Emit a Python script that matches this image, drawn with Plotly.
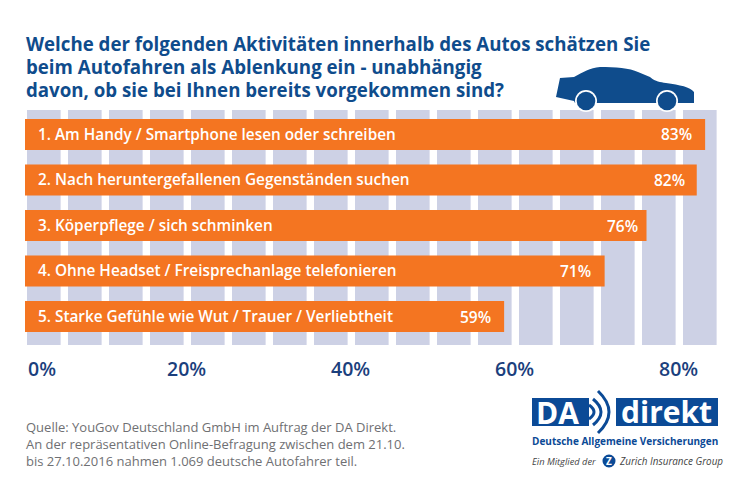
import plotly.graph_objects as go

# ______________________________________________________________________________
# DATA
# ______________________________________________________________________________

activities = ['1. Am Handy / Smartphone lesen oder schreiben',
              '2. Nach heruntergefallenen Gegenständen suchen',
              '3. Köperpflege / sich schminken',
              '4. Ohne Headset / Freisprechanlage telefonieren',
              '5. Starke Gefühle wie Wut / Trauer / Verliebtheit']
shares = [83, 82, 76, 71, 59]
column_starts = [0, 5, 10, 15, 20, 25, 30, 35, 40, 45, 50, 55, 60, 65, 70, 75, 80]
column_heights = [1, 1, 1, 1, 1, 1, 1, 1, 1, 1, 1, 1, 1, 1, 1, 1, 1]
tick_values = [0, 20, 40, 60, 80]
tick_labels = ['0%', '20%', '40%', '60%', '80%']

title_lines = ['Welche der folgenden Aktivitäten innerhalb des Autos schätzen Sie',
               'beim Autofahren als Ablenkung ein - unabhängig',
               'davon, ob sie bei Ihnen bereits vorgekommen sind?']
source_lines = ['Quelle: YouGov Deutschland GmbH im Auftrag der DA Direkt.',
                'An der repräsentativen Online-Befragung zwischen dem 21.10.',
                'bis 27.10.2016 nahmen 1.069 deutsche Autofahrer teil.']

# ______________________________________________________________________________
# PARAMETERS
# ______________________________________________________________________________

W, H = 746, 498
FONT = 'Open Sans'
NAVY = '#0f4c8c'
TICK_NAVY = '#1b3f7d'
ORANGE = '#f47521'
COLUMN = '#cdd1e5'
GREY = '#6f7073'
LOGO = '#0b4a96'

# distance of the value labels to the bar end, px
value_shifts = [-11, -10, -7, -12, -11]


def px(x):
    return x / W


def py(y):
    return 1 - y / H


def path(points):
    # pixel coordinates of the picture -> paper coordinates
    out = []
    for cmd, *xy in points:
        coords = ' '.join(f'{px(xy[i]):.5f},{py(xy[i + 1]):.5f}' for i in range(0, len(xy), 2))
        out.append(f'{cmd} {coords}')
    return ' '.join(out) + ' Z'


fig = go.Figure()

# background columns
fig.add_trace(go.Bar(x=column_starts, y=column_heights, width=4.1, offset=0,
                     marker=dict(color=COLUMN, line_width=0),
                     hoverinfo='skip', xaxis='x', yaxis='y'))

# orange bars
fig.add_trace(go.Bar(x=shares, y=activities, orientation='h', width=0.68,
                     marker=dict(color=ORANGE, line_width=0),
                     xaxis='x2', yaxis='y2'))

annotations = []

for line, y in zip(title_lines, [44, 66.5, 89]):
    annotations.append(dict(text=line, xref='paper', yref='paper', x=px(23.5), y=py(y),
                            xanchor='left', yanchor='middle', showarrow=False,
                            font=dict(family=FONT, size=18.7, color=NAVY, weight=700)))

annotations.append(dict(text='<br>'.join(source_lines), xref='paper', yref='paper', x=px(24), y=py(443.5),
                        xanchor='left', yanchor='middle', align='left', showarrow=False,
                        font=dict(family=FONT, size=13, color=GREY)))

# bar values, inside the bar end
for share, activity, shift in zip(shares, activities, value_shifts):
    annotations.append(dict(text=f'{share}%', xref='x2', yref='y2', x=share, y=activity,
                            xanchor='right', yanchor='middle', xshift=shift, showarrow=False,
                            font=dict(family=FONT, size=15.5, color='white', weight=600)))

# axis labels
for value, label in zip(tick_values, tick_labels):
    annotations.append(dict(text=label, xref='x', yref='paper', x=value, y=py(368),
                            xanchor='left' if value == 0 else 'center', yanchor='middle',
                            xshift=-1 if value == 0 else -5, showarrow=False,
                            font=dict(family=FONT, size=19.5, color=TICK_NAVY, weight=600)))

# logo text
logo_texts = [('DA', 534, 412, 30, 'white', 700, 'normal'),
              ('direkt', 619, 411, 30, 'white', 700, 'normal'),
              ('Deutsche Allgemeine Versicherungen', 530, 441, 10, LOGO, 700, 'normal'),
              ('Ein Mitglied der', 530, 461, 9.3, '#444444', 400, 'italic'),
              ('Zurich Insurance Group', 617, 461, 9.9, '#444444', 400, 'italic')]
for text, x, y, size, color, weight, style in logo_texts:
    annotations.append(dict(text=text, xref='paper', yref='paper', x=px(x), y=py(y),
                            xanchor='left', yanchor='middle', showarrow=False,
                            font=dict(family=FONT, size=size, color=color, weight=weight, style=style)))
annotations.append(dict(text='<b>Z</b>', xref='paper', yref='paper', x=px(609), y=py(461),
                        xanchor='center', yanchor='middle', showarrow=False,
                        font=dict(family=FONT, size=10, color='white')))

# car
car = [('M', 556, 97), ('L', 560, 78), ('L', 574, 77),
       ('C', 583, 72, 590, 68, 600, 67), ('C', 615, 67, 630, 68, 638, 72),
       ('L', 650, 77), ('C', 656, 82, 660, 82, 666, 83), ('C', 680, 85, 690, 87, 694, 92),
       ('L', 694, 103), ('L', 575, 103), ('L', 574, 101)]
shapes = [dict(type='path', path=path(car), xref='paper', yref='paper',
               fillcolor=NAVY, line_width=0, layer='above')]
for cx in [586, 667]:
    shapes.append(dict(type='circle', xref='paper', yref='paper', layer='above',
                       x0=px(cx - 11), x1=px(cx + 11), y0=py(101 + 11), y1=py(101 - 11),
                       fillcolor='white', line_width=0))
    shapes.append(dict(type='circle', xref='paper', yref='paper', layer='above',
                       x0=px(cx - 9.3), x1=px(cx + 9.3), y0=py(101 + 9.3), y1=py(101 - 9.3),
                       fillcolor=NAVY, line_width=0))

# logo box, gap with the sound arcs, Z badge
shapes.append(dict(type='rect', xref='paper', yref='paper', x0=px(532), x1=px(718),
                   y0=py(426), y1=py(398), fillcolor=LOGO, line_width=0, layer='below'))
shapes.append(dict(type='rect', xref='paper', yref='paper', x0=px(589), x1=px(616),
                   y0=py(426.5), y1=py(397.5), fillcolor='white', line_width=0, layer='below'))
for x0, x1, y0, y1, w in [(589, 594, 405, 419, 3), (593, 601, 399, 425, 3), (598, 609, 391, 433, 3)]:
    mid = (y0 + y1) / 2
    arc = f'M {px(x0):.5f},{py(y0):.5f} Q {px(x1 + (x1 - x0)):.5f},{py(mid):.5f} {px(x0):.5f},{py(y1):.5f}'
    shapes.append(dict(type='path', path=arc, xref='paper', yref='paper',
                       line=dict(color=LOGO, width=w), layer='above'))
shapes.append(dict(type='circle', xref='paper', yref='paper', x0=px(602.5), x1=px(615.5),
                   y0=py(467.5), y1=py(454.5), fillcolor=LOGO, line_width=0, layer='above'))

fig.update_layout(
    width=W, height=H,
    margin=dict(l=0, r=0, t=0, b=0),
    paper_bgcolor='white', plot_bgcolor='white',
    showlegend=False, barmode='overlay',
    annotations=annotations, shapes=shapes,
    # columns: 0% at 27 px, 8.2 px per %
    xaxis=dict(domain=[px(25), px(720)], range=[(25 - 27) / 8.2, (720 - 27) / 8.2],
               visible=False, fixedrange=True),
    yaxis=dict(domain=[py(345), py(110)], range=[0, 1], visible=False, fixedrange=True),
    # bars: 0% at 10 px, 8.375 px per %, cut off at the left plot edge
    xaxis2=dict(domain=[px(25), px(720)], range=[(25 - 10) / 8.375, (720 - 10) / 8.375],
                overlaying='x', anchor='y2', visible=False, fixedrange=True),
    yaxis2=dict(overlaying='y', anchor='x2', side='left', range=[4.626, -0.538],
                type='category', categoryorder='array', categoryarray=activities,
                showgrid=False, zeroline=False, showline=False, ticks='',
                ticklabelposition='inside', ticklabelstandoff=10, fixedrange=True,
                tickfont=dict(family=FONT, size=15.35, color='white', weight=600)),
)

fig.write_html('out.html', config=dict(displayModeBar=False),
               post_script="document.body.style.margin='0';")
